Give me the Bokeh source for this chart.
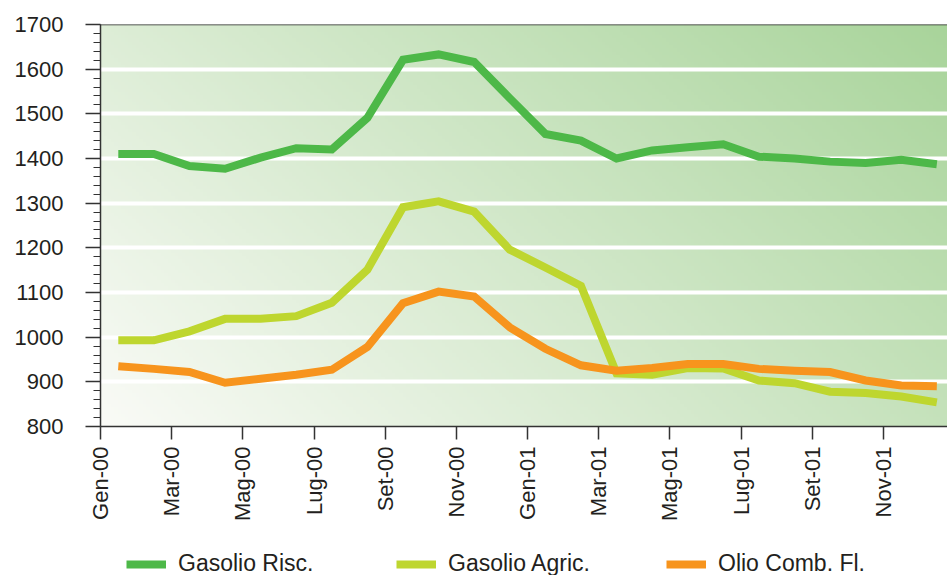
import numpy as np
from bokeh.plotting import figure
from bokeh.layouts import column
from bokeh.models import FixedTicker, Span, Legend, LegendItem, Range1d
from bokeh.embed import file_html
from bokeh.resources import INLINE

months = ["Gen-00", "Feb-00", "Mar-00", "Apr-00", "Mag-00", "Giu-00", "Lug-00", "Ago-00",
          "Set-00", "Ott-00", "Nov-00", "Dic-00", "Gen-01", "Feb-01", "Mar-01", "Apr-01",
          "Mag-01", "Giu-01", "Lug-01", "Ago-01", "Set-01", "Ott-01", "Nov-01", "Dic-01"]

gasolio_risc = [1410, 1410, 1383, 1377, 1402, 1423, 1420, 1491, 1621, 1633, 1616, 1535,
                1455, 1440, 1400, 1418, 1425, 1432, 1404, 1400, 1393, 1390, 1397, 1387]
gasolio_agric = [993, 993, 1013, 1041, 1041, 1047, 1077, 1151, 1291, 1304, 1281, 1196,
                 1156, 1115, 919, 916, 931, 930, 903, 897, 878, 875, 867, 854]
olio_comb = [935, 929, 922, 898, 907, 916, 927, 978, 1076, 1102, 1091, 1022,
             974, 937, 925, 931, 940, 940, 929, 925, 922, 903, 892, 890]

series_names = ["Gasolio Risc.", "Gasolio Agric.", "Olio Comb. Fl."]
series_colors = ["#4DB848", "#BED62F", "#F7941D"]

y_ticks = list(range(800, 1701, 100))
x_tick_idx = list(range(0, 24, 2))

x = [i + 0.5 for i in range(len(months))]
all_series = [gasolio_risc, gasolio_agric, olio_comb]

FONT = "Liberation Sans"
TXT = "#231F20"

p = figure(frame_width=847, frame_height=402, output_backend="svg", toolbar_location=None,
           x_range=Range1d(0, 23.8), y_range=Range1d(800, 1700),
           min_border_left=100, min_border_right=0, min_border_top=24, min_border_bottom=0,
           background_fill_color="white", border_fill_color="white")
p.outline_line_color = None

# background gradient (decoration)
H, W = 120, 240
u = np.linspace(0, 1, W)[None, :]
v = np.linspace(0, 1, H)[:, None]
t = np.clip(0.65 * u + 0.35 * v, 0, 1)
c0 = np.array([250, 251, 247])
c1 = np.array([168, 212, 154])
img = np.empty((H, W), dtype=np.uint32)
view = img.view(dtype=np.uint8).reshape((H, W, 4))
for k in range(3):
    view[:, :, k] = (c0[k] + (c1[k] - c0[k]) * t).astype(np.uint8)
view[:, :, 3] = 255
p.image_rgba(image=[img], x=0, y=800, dw=24, dh=900, level="image")

# grid
p.xgrid.grid_line_color = None
p.ygrid.grid_line_color = "white"
p.ygrid.grid_line_width = 4
p.ygrid.ticker = FixedTicker(ticks=y_ticks[1:-1])

# axes
p.yaxis.ticker = FixedTicker(ticks=y_ticks, minor_ticks=list(range(800, 1701, 20)))
p.yaxis.major_tick_out = 15
p.yaxis.major_tick_in = 0
p.yaxis.minor_tick_out = 7
p.yaxis.minor_tick_in = 0
p.yaxis.major_label_standoff = 22
p.xaxis.ticker = FixedTicker(ticks=x_tick_idx, minor_ticks=[])
p.xaxis.major_label_overrides = {i: months[i] for i in x_tick_idx}
p.xaxis.major_label_orientation = np.pi / 2
p.xaxis.major_tick_out = 13
p.xaxis.major_tick_in = 0
p.xaxis.major_label_standoff = 7
for ax in (p.xaxis, p.yaxis):
    ax.axis_line_color = "#333333"
    ax.axis_line_width = 1.5
    ax.major_tick_line_color = "#333333"
    ax.major_tick_line_width = 1.5
    ax.minor_tick_line_color = "#333333"
    ax.minor_tick_line_width = 1.2
    ax.major_label_text_font = FONT
    ax.major_label_text_font_size = "22px"
    ax.major_label_text_color = TXT

p.add_layout(Span(location=1700, dimension="width", line_color="#222222", line_width=1.5))

for vals, col in zip(all_series, series_colors):
    p.line(x, vals, line_color=col, line_width=8, line_join="miter")

# legend strip (separate figure below the chart; its series lie outside its view)
lf = figure(width=947, height=53, output_backend="svg", toolbar_location=None,
            x_range=Range1d(0, 1), y_range=Range1d(0, 1),
            x_axis_location=None, y_axis_location=None,
            min_border_left=0, min_border_right=0, min_border_top=0, min_border_bottom=0,
            background_fill_color="white", border_fill_color="white")
lf.outline_line_color = None
lf.grid.grid_line_color = None
items = []
for name, vals, col in zip(series_names, all_series, series_colors):
    r = lf.line(x, vals, line_color=col, line_width=8)
    items.append(LegendItem(label=name, renderers=[r]))
legend = Legend(items=items, orientation="horizontal", location=(26, 0),
                label_text_font=FONT, label_text_font_size="23px", label_text_color=TXT,
                glyph_width=40, glyph_height=24, label_height=24, label_standoff=12, spacing=68,
                label_width=150, padding=0, margin=0,
                border_line_color=None, background_fill_alpha=0)
lf.add_layout(legend)

open("out.html", "w").write(file_html(column(p, lf, spacing=0), INLINE))
